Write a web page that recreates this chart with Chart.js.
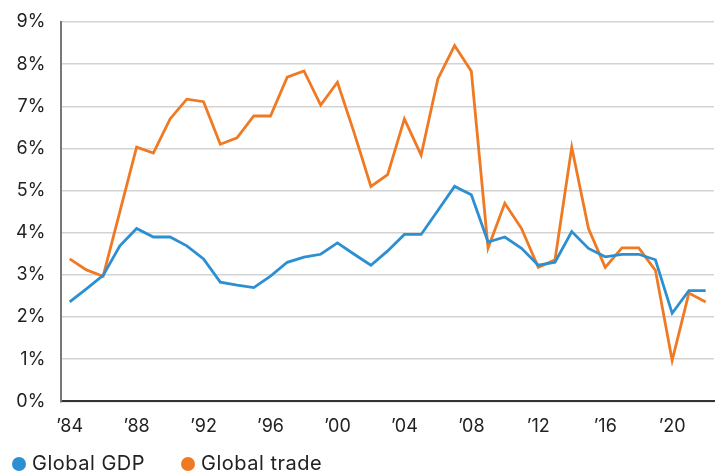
<!DOCTYPE html>
<html>
<head>
<meta charset="utf-8">
<script src="https://cdn.jsdelivr.net/npm/chart.js@4.4.1/dist/chart.umd.min.js"></script>
<style>
  html, body { margin: 0; padding: 0; background: #fff; }
  #page { position: relative; width: 723px; height: 474px; }
  #wrap { position: absolute; left: 0; top: 0; width: 723px; height: 451px; }
  #legend {
    position: absolute; left: 12px; top: 450px;
    font-family: Inter, "Noto Sans", sans-serif; font-size: 20px;
    letter-spacing: 0.5px; color: #222; white-space: nowrap;
  }
  #legend span.item { display: inline-block; margin-right: 36px; line-height: 26px; }
  #legend span.dot {
    display: inline-block; width: 14px; height: 14px; border-radius: 50%;
    margin-right: 6px; vertical-align: -1px;
  }
</style>
</head>
<body>
<div id="page">
  <div id="wrap"><canvas id="chart"></canvas></div>
  <div id="legend"></div>
</div>
<script>
// Years on the x axis.
const years = [];
for (let y = 1984; y <= 2022; y++) years.push(y);

// Annual growth, percent.
const globalGdp = [2.36, 2.67, 2.99, 3.69, 4.10, 3.90, 3.90, 3.69, 3.38, 2.83,
  2.76, 2.70, 2.97, 3.30, 3.42, 3.49, 3.76, 3.49, 3.23, 3.57,
  3.96, 3.96, 4.53, 5.10, 4.90, 3.78, 3.90, 3.63, 3.23, 3.30,
  4.03, 3.63, 3.43, 3.49, 3.49, 3.36, 2.09, 2.63, 2.63];

const globalTrade = [3.38, 3.12, 2.97, 4.50, 6.03, 5.89, 6.70, 7.17, 7.11, 6.10,
  6.25, 6.77, 6.77, 7.69, 7.84, 7.03, 7.57, 6.37, 5.10, 5.38,
  6.70, 5.84, 7.65, 8.44, 7.83, 3.64, 4.70, 4.10, 3.18, 3.36,
  6.03, 4.10, 3.18, 3.64, 3.64, 3.11, 0.97, 2.57, 2.36];

// Labelled years on the x axis.
const tickYears = [1984, 1988, 1992, 1996, 2000, 2004, 2008, 2012, 2016, 2020];

const blue = '#2b8fd2';
const orange = '#ef7a23';
const fontFamily = 'Inter, "Noto Sans", sans-serif';

const chart = new Chart(document.getElementById('chart'), {
  type: 'line',
  data: {
    labels: years,
    datasets: [
      {
        label: 'Global GDP',
        data: globalGdp,
        borderColor: blue,
        backgroundColor: blue,
        borderWidth: 2.8,
        pointRadius: 0,
        tension: 0
      },
      {
        label: 'Global trade',
        data: globalTrade,
        borderColor: orange,
        backgroundColor: orange,
        borderWidth: 2.8,
        pointRadius: 0,
        tension: 0
      }
    ]
  },
  options: {
    responsive: true,
    maintainAspectRatio: false,
    animation: false,
    layout: { padding: { top: 22, right: 9, left: 0, bottom: 0 } },
    plugins: {
      tooltip: { enabled: false },
      legend: { display: false }
    },
    scales: {
      x: {
        offset: true,
        grid: { display: false, drawTicks: false },
        border: { color: '#333', width: 2 },
        ticks: {
          autoSkip: false,
          maxRotation: 0,
          padding: 14,
          color: '#222',
          font: { family: fontFamily, size: 18 },
          callback: function (value, index) {
            const yr = years[index];
            return tickYears.includes(yr) ? '\u2019' + String(yr).slice(2) : '';
          }
        }
      },
      y: {
        min: 0,
        max: 9,
        grid: { color: '#d3d3d3', lineWidth: 1.5, drawTicks: false },
        border: { color: '#777', width: 2 },
        ticks: {
          stepSize: 1,
          padding: 16,
          color: '#222',
          font: { family: fontFamily, size: 18 },
          callback: v => v + '%'
        },
        // Tick padding would otherwise push the plot edges in.
        afterFit: scale => {
          scale.paddingTop = 0;
          scale.paddingBottom = 0;
        }
      }
    }
  }
});

// Legend as plain html under the chart.
const legend = document.getElementById('legend');
chart.data.datasets.forEach(ds => {
  const item = document.createElement('span');
  item.className = 'item';
  const dot = document.createElement('span');
  dot.className = 'dot';
  dot.style.background = ds.borderColor;
  item.appendChild(dot);
  item.appendChild(document.createTextNode(ds.label));
  legend.appendChild(item);
});
</script>
</body>
</html>
